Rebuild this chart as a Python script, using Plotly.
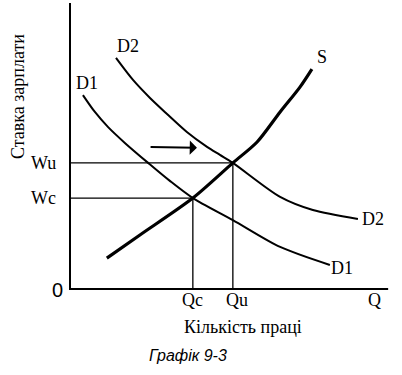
import plotly.graph_objects as go

# Data (economic units)
s_q = [11.7, 22.2, 39.0, 51.7, 59.4, 66.7, 73.0, 76.8]
s_w = [10.8, 18.9, 31.8, 44.1, 51.4, 61.9, 70.6, 76.9]
d1_q = [4.1, 7.9, 12.1, 17.5, 24.8, 31.7, 39.0, 51.7, 66.7, 82.5]
d1_w = [67.8, 61.9, 56.6, 51.0, 44.1, 37.8, 31.8, 24.1, 14.7, 8.4]
d2_q = [14.6, 20.0, 25.4, 30.8, 37.1, 43.5, 47.6, 51.7, 66.7, 77.1, 91.4]
d2_w = [80.8, 73.1, 66.8, 61.2, 54.9, 49.7, 46.9, 44.1, 32.2, 27.6, 24.5]
Qc, Qu = 39.0, 51.7
Wc, Wu = 31.8, 44.1
q_max, w_max = 101.0, 100.0

fig = go.Figure()
black = "black"
serif = "Liberation Serif"

# axes
fig.add_trace(go.Scatter(x=[0, 0, q_max], y=[w_max, 0, 0], mode="lines",
                         line=dict(color=black, width=2), hoverinfo="skip"))
# guide lines
fig.add_trace(go.Scatter(x=[0, Qu, Qu], y=[Wu, Wu, 0], mode="lines",
                         line=dict(color=black, width=1.3), hoverinfo="skip"))
fig.add_trace(go.Scatter(x=[0, Qc, Qc], y=[Wc, Wc, 0], mode="lines",
                         line=dict(color=black, width=1.3), hoverinfo="skip"))
# curves
fig.add_trace(go.Scatter(x=d1_q, y=d1_w, mode="lines", line=dict(color=black, width=2, shape="spline", smoothing=0.8), hoverinfo="skip"))
fig.add_trace(go.Scatter(x=d2_q, y=d2_w, mode="lines", line=dict(color=black, width=2, shape="spline", smoothing=0.8), hoverinfo="skip"))
fig.add_trace(go.Scatter(x=s_q, y=s_w, mode="lines", line=dict(color=black, width=3.2, shape="spline", smoothing=0.8), hoverinfo="skip"))

def txt(x, y, t, size=18, xa="center", ya="middle", family=serif, angle=0, italic=False):
    fig.add_annotation(x=x, y=y, text=("<i>%s</i>" % t) if italic else t, showarrow=False,
                       xanchor=xa, yanchor=ya, textangle=angle,
                       font=dict(family=family, size=size, color=black))

txt(-3.8, Wu, "Wu", xa="right")
txt(-3.8, Wc, "Wc", xa="right")
txt(-4.1, -0.3, "0", family="Liberation Sans", size=20)
txt(Qc, -3.8, "Qc")
txt(Qu + 1.2, -3.8, "Qu")
txt(96.8, -3.8, "Q")
txt(54.9, -13.3, "Кількість праці")
txt(37.5, -23.1, "Графік 9-3", size=16, family="Liberation Sans", italic=True)
txt(80.0, 81.1, "S")
txt(18.4, 85.0, "D2")
txt(5.4, 72.0, "D1")
txt(96.2, 24.5, "D2")
txt(86.3, 7.3, "D1")
txt(-16.5, 67.1, "Ставка зарплати", angle=-90)

# arrow
fig.add_annotation(x=40.3, y=49.4, ax=25.1, ay=49.7, xref="x", yref="y", axref="x", ayref="y",
                   text="", showarrow=True, arrowhead=1, arrowsize=1.2, arrowwidth=2, arrowcolor=black)

fig.update_layout(
    width=402, height=375, margin=dict(l=0, r=0, t=0, b=0),
    paper_bgcolor="white", plot_bgcolor="white", showlegend=False,
    xaxis=dict(range=[-70/3.15, (402-70)/3.15], visible=False, fixedrange=True),
    yaxis=dict(range=[-(375-289)/2.86, 289/2.86], visible=False, fixedrange=True),
)
fig.write_html("out.html", config={"displayModeBar": False},
               post_script="document.body.style.margin='0';document.body.style.overflow='hidden';")
